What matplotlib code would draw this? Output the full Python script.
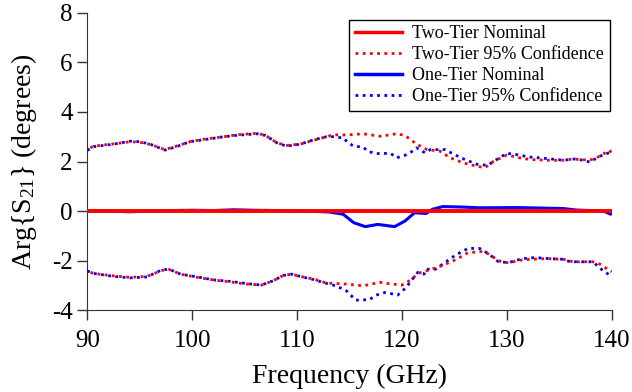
import matplotlib
matplotlib.use("Agg")
import matplotlib.pyplot as plt

plt.rcParams['font.family'] = ['Liberation Serif', 'DejaVu Serif']
plt.rcParams['mathtext.fontset'] = 'custom'
plt.rcParams['mathtext.rm'] = 'Liberation Serif'
plt.rcParams['mathtext.it'] = 'Liberation Serif:italic'
plt.rcParams['axes.unicode_minus'] = False

# two-tier nominal
f_two_nom = [90, 140]
two_nom = [0.0, 0.0]

# two-tier 95% bounds
f_two_up = [90, 90.6, 92.5, 94.1, 95, 96, 97.4, 98.5, 99.8, 101.4, 103, 104.3, 106.2, 107, 108.1,
            109, 110.3, 111.6, 112.8, 113.5, 114.7, 116.3, 117.9, 119.5, 120.3, 121.4, 122.4,
            123.6, 124.6, 125.8, 127.1, 127.9, 128.7, 130, 131.2, 132.2, 133.8, 135.4, 136.3,
            137.9, 138.9, 139.7, 140]
two_up = [2.48, 2.62, 2.71, 2.8, 2.78, 2.69, 2.48, 2.62, 2.8, 2.92, 3.0, 3.08, 3.14, 3.05, 2.75,
          2.65, 2.7, 2.86, 3.0, 3.08, 3.07, 3.12, 3.02, 3.12, 3.05, 2.7, 2.48, 2.42, 2.15, 1.95,
          1.81, 1.75, 2.0, 2.26, 2.15, 2.08, 2.05, 2.05, 2.1, 2.05, 2.22, 2.45, 2.38]
f_two_lo = [90, 90.6, 92.5, 94.1, 95.7, 97.1, 97.8, 98.9, 100.5, 102, 103.6, 105.2, 106.6, 107.7,
            108.7, 109.5, 110.3, 111.6, 112.8, 114.7, 116.3, 117.9, 119.1, 120, 120.7, 121.6,
            122.6, 123.8, 125.1, 126.3, 127.6, 128.3, 129.2, 130.2, 131.1, 132.2, 133.8, 135.4,
            136.3, 138.2, 138.9, 139.6, 140]
two_lo = [-2.42, -2.52, -2.62, -2.68, -2.64, -2.4, -2.36, -2.55, -2.68, -2.78, -2.86, -2.95, -2.99,
          -2.82, -2.6, -2.55, -2.64, -2.75, -2.91, -2.95, -3.02, -2.88, -2.95, -2.99, -2.82, -2.51,
          -2.38, -2.21, -1.97, -1.68, -1.64, -1.74, -2.01, -2.1, -1.99, -1.95, -1.92, -1.95, -2.05,
          -2.05, -2.15, -2.35, -2.45]

# one-tier nominal
f_one_nom = [90, 92, 94, 96, 98, 100, 102, 104, 106, 108, 110, 112, 113.1, 114.4, 115.4, 116.5,
             117.7, 119.3, 120.3, 121.2, 122.3, 122.9, 123.9, 125.8, 127.4, 131, 135.4, 136.6,
             139.2, 139.9, 140]
one_nom = [0.02, 0.0, -0.03, 0.0, 0.02, 0.03, 0.02, 0.05, 0.03, 0.02, 0.0, -0.02, -0.04, -0.13,
           -0.47, -0.63, -0.54, -0.63, -0.4, -0.07, -0.1, 0.07, 0.18, 0.16, 0.13, 0.14, 0.1, 0.04,
           0.0, -0.13, -0.05]

# one-tier 95% bounds
f_one_up = [90, 90.6, 92.5, 94.1, 95, 96, 97.4, 98.5, 99.8, 101.4, 103, 104.3, 106.2, 107, 108.1,
            109, 110.3, 111.6, 112.8, 113.5, 114.4, 114.9, 115.4, 116.3, 116.8, 117.6, 118.9,
            119.5, 120.5, 121, 121.4, 122.2, 122.7, 124.1, 125, 126, 127.2, 128.2, 128.9, 130,
            130.9, 132.2, 133.8, 135.4, 136.6, 137.9, 138.9, 139.9, 140]
one_up = [2.45, 2.6, 2.7, 2.82, 2.8, 2.7, 2.46, 2.6, 2.8, 2.9, 3.0, 3.06, 3.12, 3.05, 2.75, 2.62,
          2.7, 2.88, 3.0, 3.0, 2.95, 2.75, 2.62, 2.58, 2.4, 2.32, 2.33, 2.15, 2.28, 2.42, 2.55,
          2.35, 2.48, 2.48, 2.28, 2.08, 1.88, 1.85, 2.05, 2.33, 2.28, 2.18, 2.12, 2.05, 2.11,
          1.98, 2.22, 2.38, 2.35]
f_one_lo = [90, 90.6, 92.5, 94.1, 95.7, 97.1, 97.8, 98.9, 100.5, 102, 103.6, 105.2, 106.6, 107.7,
            108.7, 109.5, 110.3, 111.6, 112.8, 113.7, 114.7, 115.6, 116.9, 117.5, 118.4, 119.6,
            120.4, 121, 121.5, 122.1, 122.3, 123.2, 124.1, 125.1, 126.3, 127.4, 128.3, 129.2,
            130.2, 131.5, 132.7, 134, 135.4, 136, 137.3, 138.2, 139, 139.9, 140]
one_lo = [-2.42, -2.52, -2.64, -2.7, -2.66, -2.38, -2.35, -2.55, -2.66, -2.78, -2.84, -2.93, -2.99,
          -2.82, -2.6, -2.55, -2.64, -2.77, -2.92, -3.02, -3.22, -3.6, -3.58, -3.4, -3.29, -3.39,
          -3.09, -2.75, -2.48, -2.55, -2.35, -2.35, -2.08, -1.78, -1.51, -1.51, -1.74, -2.05,
          -2.08, -1.92, -1.88, -1.92, -1.95, -2.05, -2.05, -2.05, -2.35, -2.62, -2.65]

fig = plt.figure(figsize=(6.32, 3.92), dpi=100)
ax = fig.add_axes([0.138, 0.209, 0.83, 0.758])

dot = (0, (1, 1.6))
ax.plot(f_one_nom, one_nom, color='blue', lw=2.2, zorder=3)
ax.plot(f_one_up, one_up, color='blue', lw=2.0, ls=dot, zorder=3)
ax.plot(f_one_lo, one_lo, color='blue', lw=2.0, ls=dot, zorder=3)
ax.plot(f_two_nom, two_nom, color='red', lw=2.8, zorder=4)
ax.plot(f_two_up, two_up, color='red', lw=2.0, ls=(1.3, (1, 1.6)), zorder=4)
ax.plot(f_two_lo, two_lo, color='red', lw=2.0, ls=(1.3, (1, 1.6)), zorder=4)

# legend handles (order as in the reference)
h1, = ax.plot([], [], color='red', lw=2.5, label='Two-Tier Nominal')
h2, = ax.plot([], [], color='red', lw=2.0, ls=dot, label='Two-Tier 95% Confidence')
h3, = ax.plot([], [], color='blue', lw=2.5, label='One-Tier Nominal')
h4, = ax.plot([], [], color='blue', lw=2.0, ls=dot, label='One-Tier 95% Confidence')
leg = ax.legend(handles=[h1, h2, h3, h4], loc='upper right', bbox_to_anchor=(0.996, 0.976),
                fontsize=13, frameon=True, fancybox=False, edgecolor='black', framealpha=1,
                handlelength=2.6, labelspacing=0.22, borderpad=0.3, borderaxespad=0,
                handletextpad=0.6)
leg.get_frame().set_linewidth(1.0)

ax.set_xlim(90, 140)
ax.set_ylim(-4, 8)
ax.set_xticks([90, 100, 110, 120, 130, 140])
ax.set_yticks([-4, -2, 0, 2, 4, 6, 8])
ax.spines['top'].set_visible(False)
ax.spines['right'].set_visible(False)
ax.spines['left'].set_color('#333333')
ax.spines['bottom'].set_color('#333333')
ax.tick_params(direction='out', length=7, width=1, labelsize=18, colors='#333333',
               labelcolor='black')
ax.tick_params(axis='x', pad=7)
ax.set_xlabel('Frequency (GHz)', fontsize=20, labelpad=9)
ax.set_ylabel('Arg{S$_{21}$} (degrees)', fontsize=20, labelpad=9)

fig.savefig('out.png', dpi=100)
